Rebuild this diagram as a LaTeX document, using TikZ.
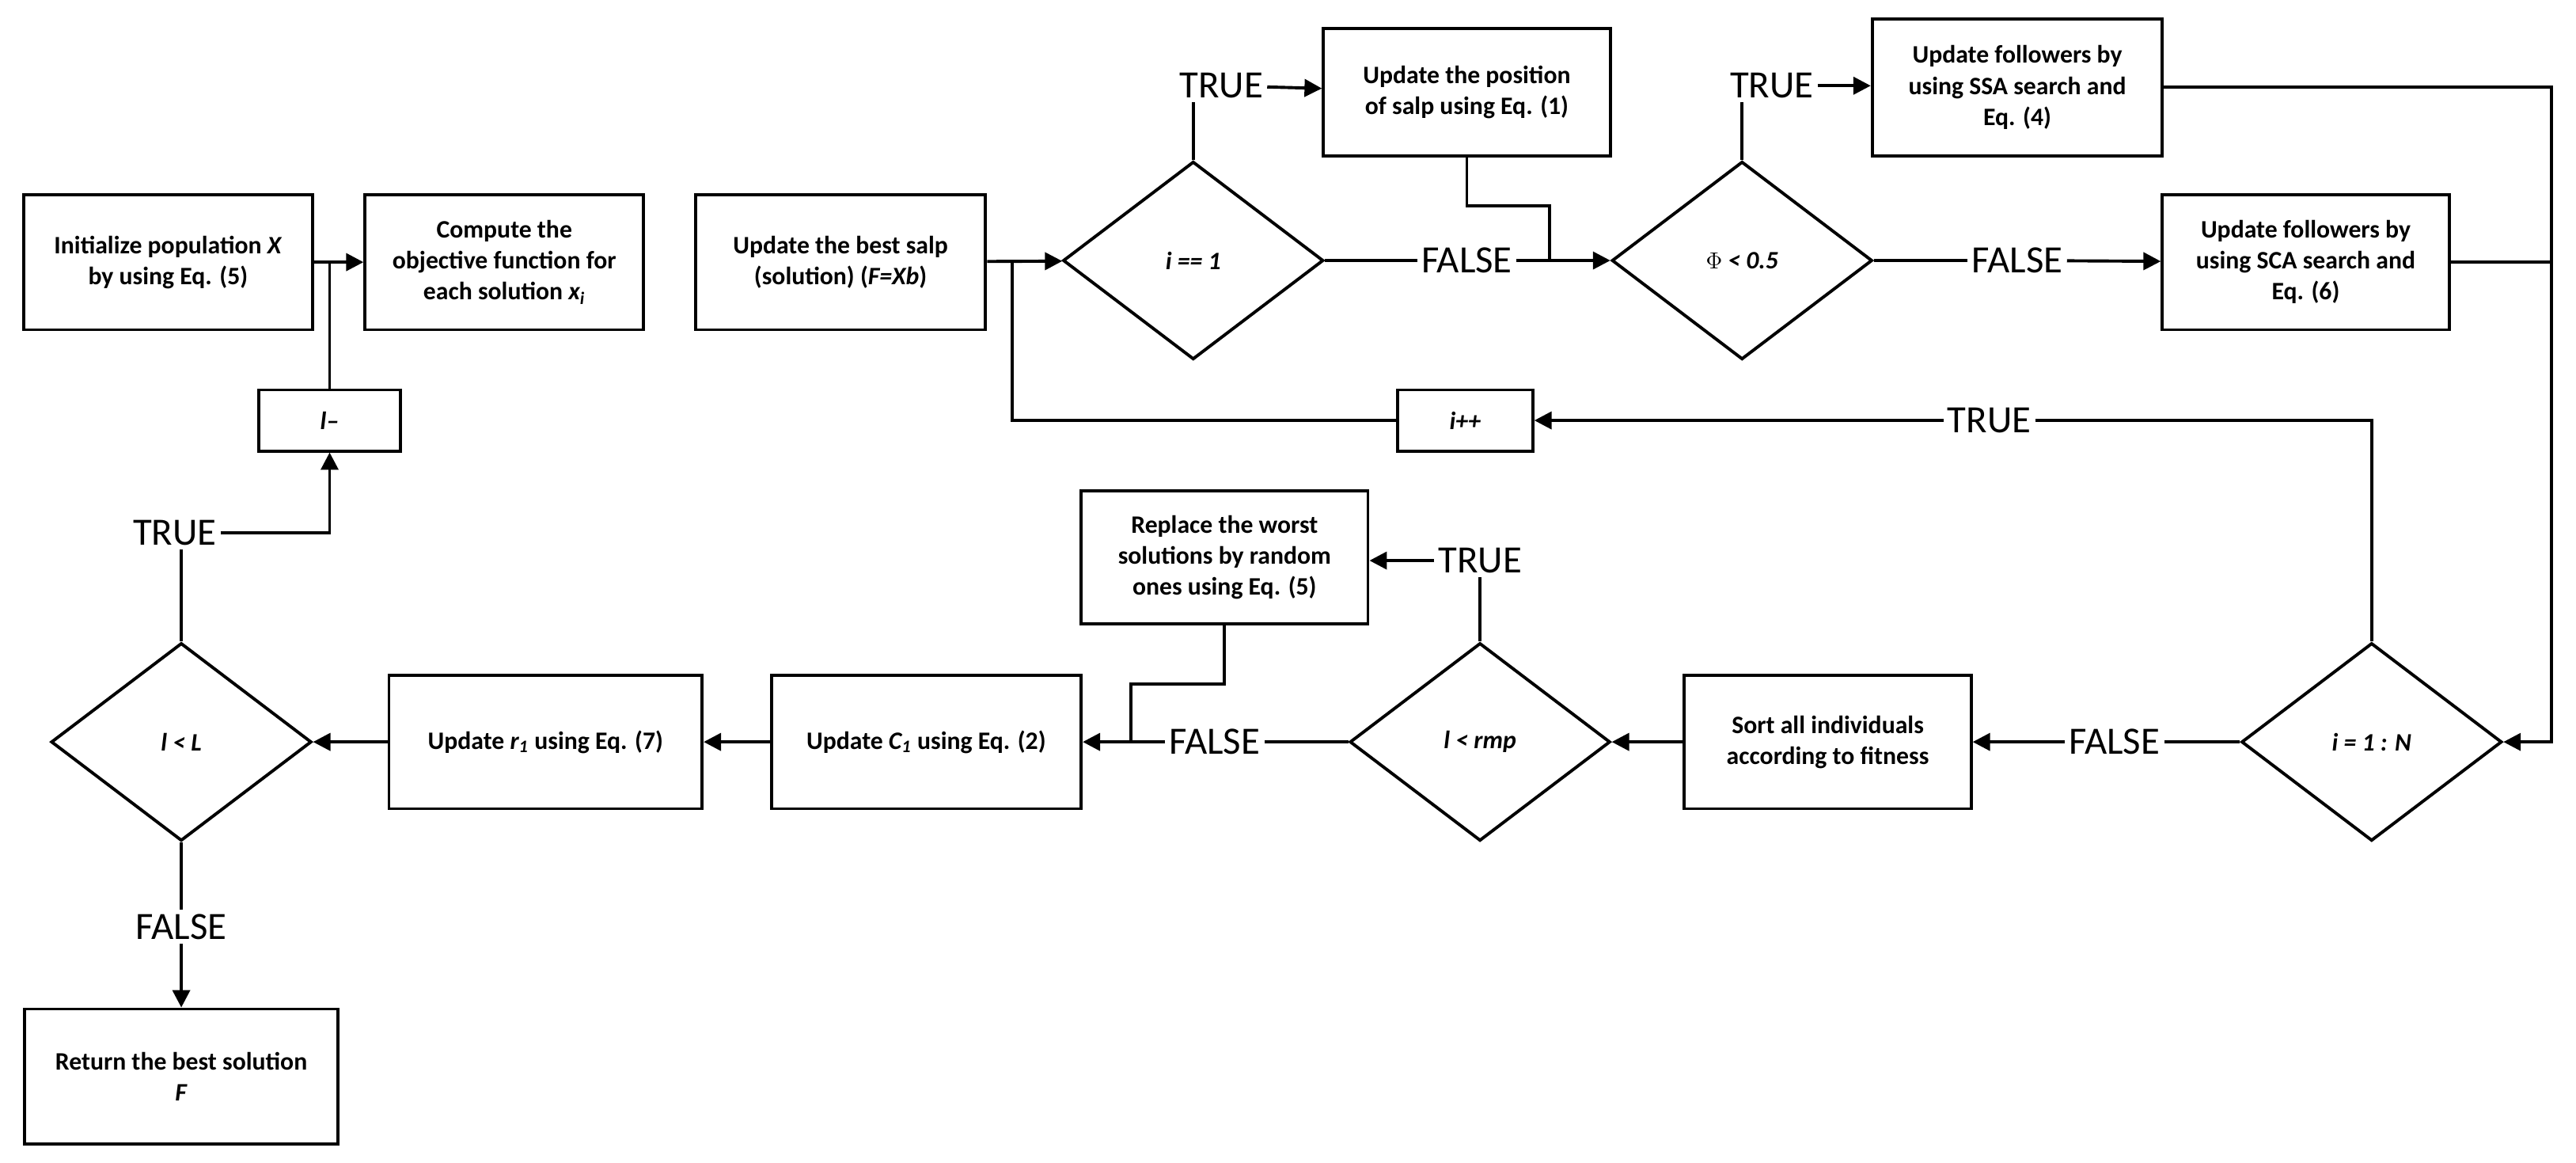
\documentclass[tikz,border=0pt]{standalone}
\usepackage{fontspec}
\setmainfont{Carlito}
\usetikzlibrary{arrows.meta,shapes.geometric}
\tikzset{
  box/.style={draw,line width=1.6pt,align=center,font=\fontsize{13}{16}\selectfont\bfseries,inner sep=2pt},
  dia/.style={draw,diamond,line width=1.6pt,minimum width=4.74cm,minimum height=3.6cm,inner sep=0pt,font=\fontsize{13}{16}\selectfont\bfseries\itshape},
  lbl/.style={font=\fontsize{20}{22}\selectfont,inner sep=2pt},
  line/.style={line width=1.6pt},
  arr/.style={line width=1.6pt,-{Triangle[length=9pt,width=9pt]}}
}
\begin{document}
\begin{tikzpicture}[x=0.03cm,y=-0.03cm]
\useasboundingbox (0,0) rectangle (1563,705);
% boxes
\node[box,minimum width=5.25cm,minimum height=2.46cm] (init) at (102,159) {Initialize population \textit{X}\\by using Eq. (5)};
\node[box,minimum width=5.07cm,minimum height=2.46cm] (comp) at (306,159) {Compute the\\objective function for\\each solution \textit{x\textsubscript{i}}};
\node[box,minimum width=5.28cm,minimum height=2.46cm] (best) at (510,159) {Update the best salp\\(solution) (\textit{F=Xb})};
\node[box,minimum width=5.22cm,minimum height=2.31cm] (pos) at (890,56) {Update the position\\of salp using Eq. (1)};
\node[box,minimum width=5.28cm,minimum height=2.49cm] (ssa) at (1224,53) {Update followers by\\using SSA search and\\Eq. (4)};
\node[box,minimum width=5.22cm,minimum height=2.46cm] (sca) at (1399,159) {Update followers by\\using SCA search and\\Eq. (6)};
\node[box,minimum width=2.46cm,minimum height=1.11cm] (ipp) at (889,255) {\textit{i++}};
\node[box,minimum width=2.58cm,minimum height=1.11cm] (lmm) at (200,255) {\textit{l--}};
\node[box,minimum width=5.22cm,minimum height=2.43cm] (sort) at (1109,450) {Sort all individuals\\according to fitness};
\node[box,minimum width=5.22cm,minimum height=2.43cm] (rep) at (743,338) {Replace the worst\\solutions by random\\ones using Eq. (5)};
\node[box,minimum width=5.64cm,minimum height=2.43cm] (cone) at (562,450) {Update \textit{C\textsubscript{1}} using Eq. (2)};
\node[box,minimum width=5.7cm,minimum height=2.43cm] (rone) at (331,450) {Update \textit{r\textsubscript{1}} using Eq. (7)};
\node[box,minimum width=5.7cm,minimum height=2.46cm] (ret) at (110,653) {Return the best solution\\\textit{F}};
% decisions
\node[dia] (dA) at (724,158) {i == 1};
\node[dia] (dB) at (1057,158) {$\Phi$ < 0.5};
\node[dia] (dC) at (1439,450) {i = 1 : N};
\node[dia] (dD) at (898,450) {l < rmp};
\node[dia] (dE) at (110,450) {l < L};
% labels
\node[lbl] (tA) at (741,52) {TRUE};
\node[lbl] (fA) at (890,158) {FALSE};
\node[lbl] (tB) at (1075,52) {TRUE};
\node[lbl] (fB) at (1224,158) {FALSE};
\node[lbl] (tC) at (1207,255) {TRUE};
\node[lbl] (fC) at (1283,450) {FALSE};
\node[lbl] (tD) at (898,340) {TRUE};
\node[lbl] (fD) at (737,450) {FALSE};
\node[lbl] (tE) at (106,323) {TRUE};
\node[lbl] (fE) at (110,562) {FALSE};
% joints
\coordinate (jA) at (614,158);
\coordinate (kA) at (940,125);
\coordinate (jB) at (940,158);
\coordinate (jR) at (1548,450);
\coordinate (kD) at (686,415);
\coordinate (jD) at (686,450);
% connectors
\draw[arr] (init) -- (comp);
\draw[line] (lmm) -- (lmm|-init.east);
\draw[arr] (best) -- (dA);
\draw[line] (ipp) -| (jA);
\draw[line] (dA.north) -- (dA.north|-tA.south);
\draw[arr] (tA) -- (pos);
\draw[line] (dA) -- (fA);
\draw[arr] (fA) -- (dB);
\draw[line] (pos) |- (kA) -- (jB);
\draw[line] (dB.north) -- (dB.north|-tB.south);
\draw[arr] (tB) -- (ssa.west|-tB);
\draw[line] (dB) -- (fB);
\draw[arr] (fB) -- (sca);
\draw[arr] (ssa.east) -| (jR) -- (dC.east);
\draw[line] (sca.east) -- (sca.east-|jR);
\draw[line] (dC.north) |- (tC);
\draw[arr] (tC) -- (ipp);
\draw[line] (dC) -- (fC);
\draw[arr] (fC) -- (sort);
\draw[arr] (sort) -- (dD);
\draw[line] (dD) -- (tD);
\draw[arr] (tD.west) -- (rep.east|-tD.west);
\draw[line] (dD) -- (fD);
\draw[arr] (fD) -- (cone);
\draw[line] (rep) |- (kD) -- (jD);
\draw[arr] (cone) -- (rone);
\draw[arr] (rone) -- (dE);
\draw[line] (dE.north) -- (dE.north|-tE.south);
\draw[arr] (tE) -| (lmm);
\draw[line] (dE) -- (fE);
\draw[arr] (fE) -- (ret);
\end{tikzpicture}
\end{document}
